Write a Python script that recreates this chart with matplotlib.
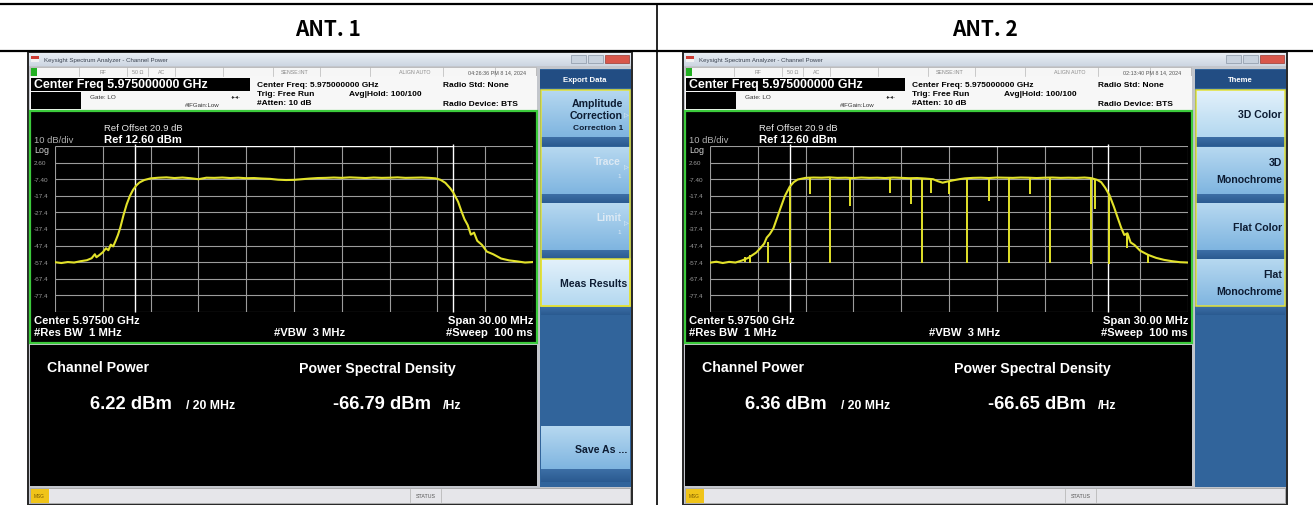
import numpy as np
import matplotlib
matplotlib.use("Agg")
import matplotlib.pyplot as plt
from matplotlib.patches import Rectangle
from matplotlib import transforms

plt.rcParams['font.family'] = ['Liberation Sans', 'DejaVu Sans']

W, H = 1313, 506

# analyzer settings
ref_level = 12.60
ref_offset = 20.9
db_per_div = 10
center_mhz = 5975.0
span_mhz = 30.0
chan_bw_mhz = 20.0

antennas = ['ANT. 1', 'ANT. 2']
timestamps = ['04:26:36 PM 8 14, 2024', '02:13:40 PM 8 14, 2024']
channel_power = [6.22, 6.36]
power_density = [-66.79, -66.65]

# ANT. 1 trace (MHz, dBm)
ant1_freq = [5960.0, 5960.4, 5960.8, 5961.2, 5961.6, 5962.0, 5962.3, 5962.5, 5962.6, 5962.8,
             5963.0, 5963.2, 5963.35, 5963.5, 5963.65, 5963.8, 5963.95, 5964.1, 5964.3, 5964.5,
             5964.7, 5964.9, 5965.1, 5965.3, 5965.6, 5966.0, 5966.5, 5967.0, 5967.5, 5968.0,
             5968.5, 5969.0, 5969.5, 5970.0, 5970.5, 5971.0, 5971.5, 5972.0, 5972.5, 5973.0,
             5973.5, 5974.0, 5974.5, 5975.0, 5975.5, 5976.0, 5976.5, 5977.0, 5977.5, 5978.0,
             5978.5, 5979.0, 5979.5, 5980.0, 5980.5, 5981.0, 5981.5, 5982.0, 5982.5, 5983.0,
             5983.5, 5983.9, 5984.2, 5984.5, 5984.8, 5985.0, 5985.3, 5985.5, 5985.7, 5985.9,
             5986.1, 5986.3, 5986.5, 5986.8, 5987.1, 5987.5, 5988.0, 5988.5, 5989.0, 5989.5,
             5990.0]
ant1_level = [-57.4, -57.9, -57.3, -57.6, -56.8, -56.2, -55.0, -52.6, -54.4, -53.0,
              -51.4, -49.0, -50.2, -46.8, -47.9, -44.6, -41.0, -36.5, -29.0, -22.5,
              -17.5, -13.8, -11.2, -9.4, -7.9, -6.9, -6.5, -6.3, -6.7, -6.4,
              -6.8, -7.4, -6.5, -6.6, -6.4, -6.7, -6.5, -6.8, -6.7, -7.0,
              -7.2, -7.7, -7.9, -7.8, -7.4, -7.0, -6.7, -6.6, -6.4, -6.6,
              -6.3, -6.5, -6.7, -6.4, -6.6, -6.5, -6.3, -6.6, -6.5, -6.4,
              -6.6, -6.9, -7.8, -9.6, -12.8, -15.5, -21.0, -26.5, -31.5, -35.0,
              -40.8, -39.6, -44.5, -47.0, -51.0, -52.6, -55.2, -56.3, -56.9, -57.6,
              -57.3]

# ANT. 2 trace (MHz, dBm)
ant2_freq = [5960.0, 5960.4, 5960.8, 5961.2, 5961.6, 5962.0, 5962.4, 5962.9, 5963.2, 5963.4,
             5963.56, 5963.75, 5963.98, 5964.2, 5964.4, 5964.7, 5965.0, 5965.25, 5965.5, 5966.0,
             5966.5, 5967.0, 5967.5, 5968.0, 5968.5, 5969.0, 5969.5, 5970.0, 5970.5, 5971.0,
             5971.5, 5972.0, 5972.5, 5973.0, 5973.5, 5974.0, 5974.3, 5974.6, 5974.9, 5975.3,
             5975.7, 5976.0, 5976.5, 5977.0, 5977.5, 5978.0, 5978.5, 5979.0, 5979.5, 5980.0,
             5980.5, 5981.0, 5981.5, 5982.0, 5982.5, 5983.0, 5983.5, 5983.9, 5984.3, 5984.55,
             5984.8, 5985.07, 5985.35, 5985.6, 5985.8, 5986.0, 5986.2, 5986.4, 5986.64, 5987.0,
             5987.5, 5988.0, 5988.5, 5989.0, 5989.5, 5990.0]
ant2_level = [-57.7, -57.1, -57.9, -57.2, -57.6, -56.4, -54.8, -51.6, -48.5, -46.2,
              -42.6, -40.5, -37.0, -31.0, -25.5, -17.5, -12.0, -9.2, -7.6, -6.6,
              -6.4, -6.5, -6.3, -6.6, -6.5, -6.7, -6.4, -6.6, -6.5, -6.7,
              -6.4, -6.6, -6.8, -6.7, -7.0, -7.4, -8.6, -9.5, -8.8, -8.0,
              -7.3, -6.9, -6.6, -6.5, -6.7, -6.4, -6.5, -6.6, -6.4, -6.5,
              -6.7, -6.5, -6.4, -6.6, -6.5, -6.6, -6.4, -6.7, -7.8, -9.2,
              -12.5, -17.0, -24.0, -31.0, -36.5, -41.0, -40.0, -45.5, -47.0, -50.5,
              -53.0, -54.8, -56.0, -56.8, -57.4, -57.6]

# single-sweep dropouts on ANT. 2
ant2_dip_freq = [5962.2, 5962.5, 5963.62, 5964.99, 5966.25, 5967.55, 5968.8, 5971.32, 5972.62, 5973.31,
                 5973.84, 5975.03, 5976.14, 5977.5, 5978.78, 5980.08, 5981.36, 5983.92, 5984.17, 5985.07,
                 5986.2, 5987.5]
ant2_dip_top = [-54.5, -53.0, -45.0, -12.5, -6.6, -6.5, -6.6, -6.7, -6.6, -6.8,
                -7.2, -8.2, -6.8, -6.7, -6.5, -6.5, -6.6, -6.7, -7.6, -16.5,
                -40.0, -52.5]
ant2_dip_bottom = [-57.5, -58.0, -57.8, -57.8, -16.5, -58.0, -23.5, -15.5, -22.5, -58.0,
                   -15.5, -16.5, -58.0, -20.5, -58.0, -16.5, -58.0, -58.5, -25.5, -58.5,
                   -48.6, -58.0]

traces = [
    (ant1_freq, ant1_level, [], [], []),
    (ant2_freq, ant2_level, ant2_dip_freq, ant2_dip_top, ant2_dip_bottom),
]

soft_titles = ['Export Data', 'Theme']
soft_keys = [
    [(91, ['Amplitude', 'Correction', 'Correction 1'], 'normal'),
     (148, ['Trace'], 'grey'),
     (204, ['Limit'], 'grey'),
     (260, ['Meas Results'], 'light')],
    [(91, ['3D Color'], 'light'),
     (148, ['3D', 'Monochrome'], 'normal'),
     (204, ['Flat Color'], 'normal'),
     (260, ['Flat', 'Monochrome'], 'normal')],
]

YELLOW = '#e4e236'
PANEL = '#31649b'
GRID = '#9c9c9c'
TRACE = '#e2e22a'

fig = plt.figure(figsize=(W / 100, H / 100), dpi=100)
ax = fig.add_axes([0, 0, 1, 1])
ax.set_xlim(0, W)
ax.set_ylim(H, 0)
ax.axis('off')


def box(x, y, w, h, fc, ec='none', lw=0, z=1):
    ax.add_patch(Rectangle((x, y), w, h, facecolor=fc, edgecolor=ec, linewidth=lw, zorder=z))


def txt(x, y, s, size, color='black', weight='normal', ha='left', va='center', z=5):
    return ax.text(x, y, s, fontsize=size, color=color, fontweight=weight, ha=ha, va=va, zorder=z)


def gradient(x, y, w, h, c_top, c_bot, z=2):
    top = np.array(matplotlib.colors.to_rgb(c_top))
    bot = np.array(matplotlib.colors.to_rgb(c_bot))
    t = np.linspace(0, 1, 40)[:, None, None]
    img = (1 - t) * top + t * bot
    img = np.repeat(img, 2, axis=1)
    ax.imshow(img, extent=(x, x + w, y + h, y), aspect='auto', origin='upper',
              zorder=z, interpolation='bilinear')


def soft_key(x0, top, lines, style, h_light=47, h_band=9, text_y=None):
    if style == 'light':
        gradient(x0, top, 89, h_light, '#e2f1fb', '#b4d8f0')
    else:
        gradient(x0, top, 89, h_light, '#b6d8f0', '#7fb5e0')
    gradient(x0, top + h_light, 89, h_band, '#3d6fa6', '#2a5a90')
    col = '#dce9f4' if style == 'grey' else '#0d1c33'
    right = x0 + 86
    if lines == ['Amplitude', 'Correction', 'Correction 1']:
        txt(right - 4, top + 13, lines[0], 7.6, col, 'bold', ha='right')
        txt(right - 4, top + 25, lines[1], 7.6, col, 'bold', ha='right')
        txt(right + 2, top + 25, '\u25b7', 4.5, '#eef6fc', ha='right')
        txt(right - 4, top + 37, lines[2], 6.0, col, 'bold', ha='right')
    elif style == 'grey':
        txt(right - 6, top + 14, lines[0], 7.4, col, 'bold', ha='right')
        txt(right + 2, top + 20, '\u25b7', 4.5, '#eef6fc', ha='right')
        txt(right - 6, top + 28, '1', 4.5, col, ha='right')
    elif len(lines) == 2:
        txt(right, top + 15, lines[0], 7.6, col, 'bold', ha='right')
        txt(right, top + 32, lines[1], 7.6, col, 'bold', ha='right')
    else:
        txt(right, text_y if text_y else top + 24, lines[0], 7.6, col, 'bold', ha='right')


def draw_screen(k, ox):
    freq, level, dip_f, dip_top, dip_bot = traces[k]

    # window frame and title bar
    box(ox + 28, 53, 604, 453, '#c3c6cc', '#262626', 1.4, z=0.5)
    gradient(ox + 29, 54, 602, 13, '#e9eef4', '#cdd6e2', z=1)
    box(ox + 31, 57, 8, 3, '#cc3b33', z=3)
    box(ox + 31, 60, 8, 3, '#f2f2f2', z=3)
    txt(ox + 44, 60.5, 'Keysight Spectrum Analyzer - Channel Power', 4.4, '#3a4250')
    box(ox + 571, 56, 15, 8, '#c8d2de', '#8a96a6', 0.5, z=3)
    box(ox + 588, 56, 15, 8, '#c8d2de', '#8a96a6', 0.5, z=3)
    box(ox + 605, 56, 24, 8, '#d9574b', '#9a3a32', 0.5, z=3)

    # status row
    box(ox + 30, 68, 506, 9, '#f6f6f6', '#b0b0b0', 0.5, z=2)
    box(ox + 30.5, 68.5, 6, 8, '#22b022', z=3)
    for xd in [79, 127, 148, 175, 223, 273, 320, 370, 443, 495]:
        ax.plot([ox + xd, ox + xd], [68, 77], color='#b8b8b8', lw=0.5, zorder=3)
    for xs, s in [(103, 'RF'), (138, '50 \u03a9'), (162, 'AC'), (295, 'SENSE:INT'), (415, 'ALIGN AUTO')]:
        txt(ox + xs, 72.8, s, 3.8, '#8a8a8a', ha='center')
    txt(ox + 497, 72.8, timestamps[k], 3.9, '#555555', ha='center')

    # measurement info strip
    box(ox + 30, 77, 507, 34, '#f7f7f7', z=2)
    box(ox + 31, 78.5, 219, 13, 'black', z=3)
    txt(ox + 34, 85.3, 'Center Freq 5.975000000 GHz', 8.9, 'white', 'bold')
    box(ox + 31, 93, 50, 17, 'black', z=3)
    txt(ox + 90, 97.5, 'Gate: LO', 4.6, '#333333')
    txt(ox + 185, 105, '#IFGain:Low', 4.4, '#333333')
    txt(ox + 236, 97, '-\u25b8\u25c2-', 4.2, '#333333', ha='center')
    txt(ox + 257, 85, 'Center Freq: 5.975000000 GHz', 6.0, 'black', 'bold')
    txt(ox + 257, 94, 'Trig: Free Run', 6.0, 'black', 'bold')
    txt(ox + 257, 103, '#Atten: 10 dB', 6.0, 'black', 'bold')
    txt(ox + 349, 94, 'Avg|Hold: 100/100', 6.0, 'black', 'bold')
    txt(ox + 443, 85, 'Radio Std: None', 6.0, 'black', 'bold')
    txt(ox + 443, 104, 'Radio Device: BTS', 6.0, 'black', 'bold')

    # graticule area
    box(ox + 30, 112, 507, 232, 'black', '#3ccb3c', 1.6, z=2)
    txt(ox + 104, 128.5, 'Ref Offset %.1f dB' % ref_offset, 6.8, '#e8e8e8')
    txt(ox + 104, 140, 'Ref %.2f dBm' % ref_level, 8.1, 'white', 'bold')
    txt(ox + 34, 140.5, '%d dB/div' % db_per_div, 6.8, '#b0b0b0')
    txt(ox + 34, 150, 'Log', 6.4, '#d0d0d0')
    txt(ox + 34, 321.5, 'Center %.5f GHz' % (center_mhz / 1000), 8.1, 'white', 'bold')
    txt(ox + 34, 333.5, '#Res BW  1 MHz', 8.1, 'white', 'bold')
    txt(ox + 274, 333.5, '#VBW  3 MHz', 8.1, 'white', 'bold')
    txt(ox + 533, 321.5, 'Span %.2f MHz' % span_mhz, 8.1, 'white', 'bold', ha='right')
    txt(ox + 533, 333.5, '#Sweep  100 ms', 8.1, 'white', 'bold', ha='right')

    g = fig.add_axes([(ox + 55) / W, 1 - 313 / H, 478 / W, 166 / H])
    g.set_facecolor('black')
    f0, f1 = center_mhz - span_mhz / 2, center_mhz + span_mhz / 2
    bottom = ref_level - 10 * db_per_div
    g.set_xlim(f0, f1)
    g.set_ylim(bottom, ref_level)
    xt = [f0 + i * span_mhz / 10 for i in range(11)]
    yt = [ref_level - i * db_per_div for i in range(11)]
    g.set_xticks([])
    g.set_yticks([])
    g.vlines(xt, bottom, ref_level, color=GRID, lw=0.8, zorder=1)
    g.hlines(yt, f0, f1, color=GRID, lw=0.8, zorder=1)
    for s in g.spines.values():
        s.set_visible(False)
    edges = [center_mhz - chan_bw_mhz / 2, center_mhz + chan_bw_mhz / 2]
    g.vlines(edges, bottom, ref_level + 1.2, color='white', lw=1.0, zorder=3, clip_on=False)
    g.hlines(ref_level, edges[0], edges[1], color='white', lw=1.0, zorder=3)
    g.plot(freq, level, color=TRACE, lw=1.5, zorder=4, solid_joinstyle='round')
    if dip_f:
        g.vlines(dip_f, dip_bot, dip_top, color=TRACE, lw=1.4, zorder=4)

    # amplitude scale labels inside the graticule frame
    tr = transforms.blended_transform_factory(ax.transData, g.transData)
    for v in yt[1:-1]:
        lab = '%.2f' % v if abs(v) < 10 else '%.1f' % v
        g.text(ox + 34, v, lab, transform=tr, fontsize=4.6, color='#9a9a9a',
               ha='left', va='center', clip_on=False)

    # results panel
    box(ox + 30, 346, 507, 141, 'black', z=2)
    txt(ox + 47, 368.5, 'Channel Power', 10.2, 'white', 'bold')
    txt(ox + 299, 368.5, 'Power Spectral Density', 10.2, 'white', 'bold')
    ax.text(ox + 90, 409, '%.2f dBm' % channel_power[k], fontsize=13.2, color='white',
            fontweight='bold', va='baseline', zorder=5)
    ax.text(ox + 186, 409, '/ %d MHz' % chan_bw_mhz, fontsize=8.8, color='white',
            fontweight='bold', va='baseline', zorder=5)
    ax.text(ox + 333, 409, '%.2f dBm' % power_density[k], fontsize=13.2, color='white',
            fontweight='bold', va='baseline', zorder=5)
    ax.text(ox + 443, 409, '/Hz', fontsize=8.8, color='white',
            fontweight='bold', va='baseline', zorder=5)

    # soft key column
    box(ox + 540, 70, 91, 418, PANEL, z=1.5)
    box(ox + 540, 71, 91, 18, '#224d83', z=2)
    txt(ox + 585, 80, soft_titles[k], 5.6, 'white', 'bold', ha='center')
    for top, lines, style in soft_keys[k]:
        soft_key(ox + 541, top, lines, style)
    box(ox + 541, 91, 89, 216, 'none', YELLOW, 1.1, z=4)
    if k == 0:
        box(ox + 541, 260, 89, 47, 'none', YELLOW, 1.1, z=4)
        soft_key(ox + 541, 427, ['Save As ...'], 'normal', h_light=43, h_band=13, text_y=450)

    # message / status bar
    box(ox + 30, 489, 600, 15, '#e6e6ea', '#9a9a9a', 0.5, z=2)
    box(ox + 30.5, 489.5, 18, 14, '#f0c419', z=3)
    txt(ox + 39.5, 497, 'MSG', 3.4, '#7a5a00', ha='center')
    ax.plot([ox + 410, ox + 410], [490, 503], color='#b0b0b0', lw=0.5, zorder=3)
    ax.plot([ox + 441, ox + 441], [490, 503], color='#b0b0b0', lw=0.5, zorder=3)
    txt(ox + 425.5, 497, 'STATUS', 3.8, '#555555', ha='center')


# table lines and headers
ax.plot([0, W], [5, 5], color='black', lw=1.6, zorder=6)
ax.plot([0, W], [52, 52], color='black', lw=1.6, zorder=6)
ax.plot([657, 657], [5, H], color='black', lw=1.2, zorder=6)
for k, xc in enumerate([328, 985]):
    ax.text(xc, 29, antennas[k], fontsize=15, fontweight='bold', ha='center', va='center',
            family=['Noto Sans CJK KR', 'DejaVu Sans'], zorder=6)

draw_screen(0, 0)
draw_screen(1, 655)
ax.set_xlim(0, W)
ax.set_ylim(H, 0)

fig.savefig('out.png', dpi=100, facecolor='white')
